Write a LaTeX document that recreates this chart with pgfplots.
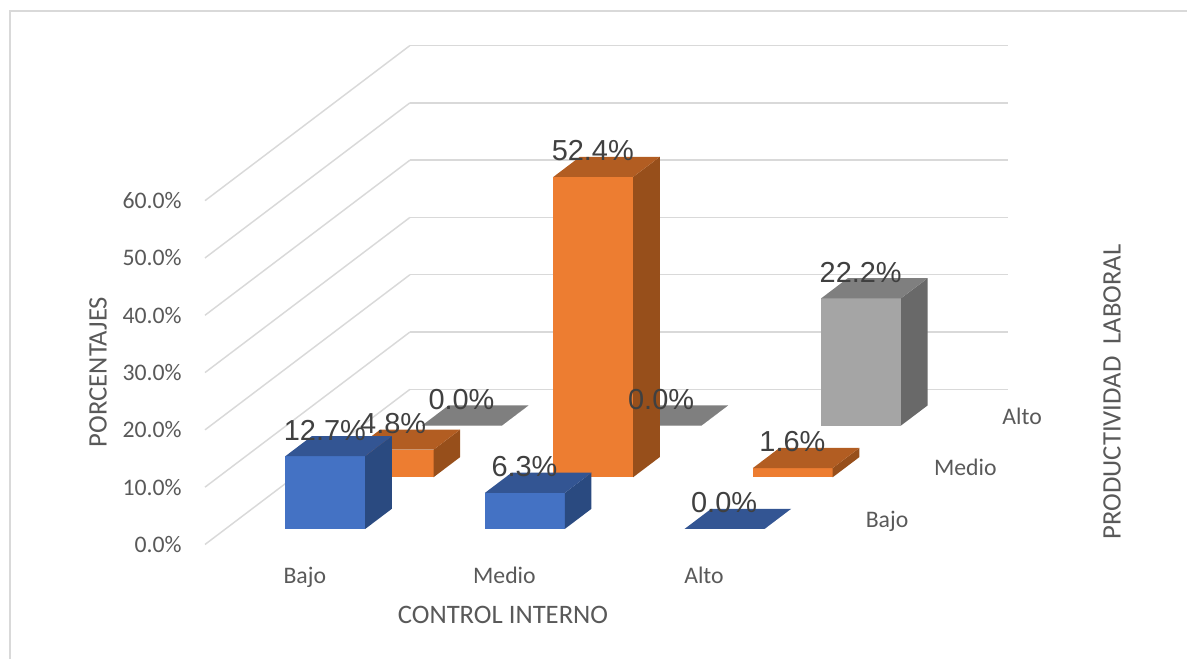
\documentclass[border=0pt]{standalone}
\usepackage{pgfplots}
\pgfplotsset{compat=1.18}
\usepackage{fontspec}
\setmainfont{Carlito}
\newfontfamily\lblfont{Liberation Sans}
\definecolor{gridc}{HTML}{D9D9D9}
\definecolor{txt}{HTML}{595959}
\definecolor{lbl}{HTML}{404040}
\definecolor{bluef}{HTML}{4472C4}\definecolor{bluet}{HTML}{335593}\definecolor{blues}{HTML}{2A4A80}
\definecolor{orangef}{HTML}{ED7D31}\definecolor{oranget}{HTML}{B25D22}\definecolor{oranges}{HTML}{974F1B}
\definecolor{grayf}{HTML}{A5A5A5}\definecolor{grayt}{HTML}{7F7F7F}\definecolor{grays}{HTML}{696969}
% x0 x1 y0 y1 value colour
\newcommand\cuboid[6]{%
  \addplot3[draw=none,fill=#6f,forget plot] coordinates {(#1,#3,0)(#2,#3,0)(#2,#3,#5)(#1,#3,#5)} --cycle;
  \addplot3[draw=none,fill=#6s,forget plot] coordinates {(#2,#3,0)(#2,#4,0)(#2,#4,#5)(#2,#3,#5)} --cycle;
  \addplot3[draw=none,fill=#6t,forget plot] coordinates {(#1,#3,#5)(#2,#3,#5)(#2,#4,#5)(#1,#4,#5)} --cycle;
}
\begin{document}
\begin{tikzpicture}
\useasboundingbox (0,0) rectangle (890.25pt,494.25pt);
\draw[gridc,line width=1.5pt] (7.5pt,0) -- (7.5pt,486pt) -- (890.25pt,486pt);
\begin{axis}[
  at={(153.75pt,85.9pt)},anchor=origin,
  x={(149.7pt,0pt)},y={(51.225pt,38.775pt)},z={(0pt,4.2975pt)},
  xmin=0,xmax=2.996,ymin=0,ymax=3,zmin=0,zmax=60,
  clip=false,
  axis line style={draw=none},
  major tick style={draw=none},
  tick align=inside,
  major tick length=0pt,
  zmajorgrids=true,xmajorgrids=false,ymajorgrids=false,
  major grid style={gridc,line width=1.1pt},
  ztick={0,10,20,30,40,50,60},
  zticklabels={0.0\%,10.0\%,20.0\%,30.0\%,40.0\%,50.0\%,60.0\%},
  xtick={0.5,1.5,2.5},xticklabels={Bajo,Medio,Alto},
  ytick={0.47,1.47,2.47},yticklabels={Bajo,Medio,Alto},
  tick label style={font=\fontsize{17.8}{20}\selectfont,text=txt},
  z tick label style={anchor=east,xshift=-14pt},
  x tick label style={anchor=base,yshift=-29pt},
  y tick label style={anchor=base west,xshift=19.5pt,yshift=-5.5pt},
  nodes near coords style={font=\lblfont\fontsize{21.7}{24}\selectfont,text=lbl,anchor=center,yshift=19.6pt},
]
% row Alto
\cuboid{0.300}{0.700}{2.30}{2.69}{0.0}{gray}
\cuboid{1.300}{1.700}{2.30}{2.69}{0.0}{gray}
\cuboid{2.300}{2.700}{2.30}{2.69}{22.2}{gray}
% row Medio
\cuboid{0.300}{0.700}{1.30}{1.69}{4.8}{orange}
\cuboid{1.300}{1.700}{1.30}{1.69}{52.4}{orange}
\cuboid{2.300}{2.700}{1.30}{1.69}{1.6}{orange}
% row Bajo
\cuboid{0.300}{0.700}{0.30}{0.69}{12.7}{blue}
\cuboid{1.300}{1.700}{0.30}{0.69}{6.3}{blue}
\cuboid{2.300}{2.700}{0.30}{0.69}{0.0}{blue}
% value labels
\addplot3[draw=none,mark=none,forget plot,point meta=z,
  nodes near coords={\pgfmathprintnumber[fixed,fixed zerofill,precision=1,assume math mode=true]{\pgfplotspointmeta}\%}]
  coordinates {
  (0.498,2.30,0.0)(1.498,2.30,0.0)(2.498,2.30,22.2)
  (0.498,1.30,4.8)(1.498,1.30,52.4)(2.498,1.30,1.6)
  (0.498,0.30,12.7)(1.498,0.30,6.3)(2.498,0.30,0.0)};
\end{axis}
\begin{scope}[x=0.75pt,y=-0.75pt,yshift=494.25pt,every node/.style={text=txt,font=\fontsize{20}{22}\selectfont}]
\node[rotate=90] at (98,372) {PORCENTAJES};
\node at (503,615) {CONTROL INTERNO};
\node[rotate=90] at (1112,392) {PRODUCTIVIDAD\ \ LABORAL};
\end{scope}
\end{tikzpicture}
\end{document}
